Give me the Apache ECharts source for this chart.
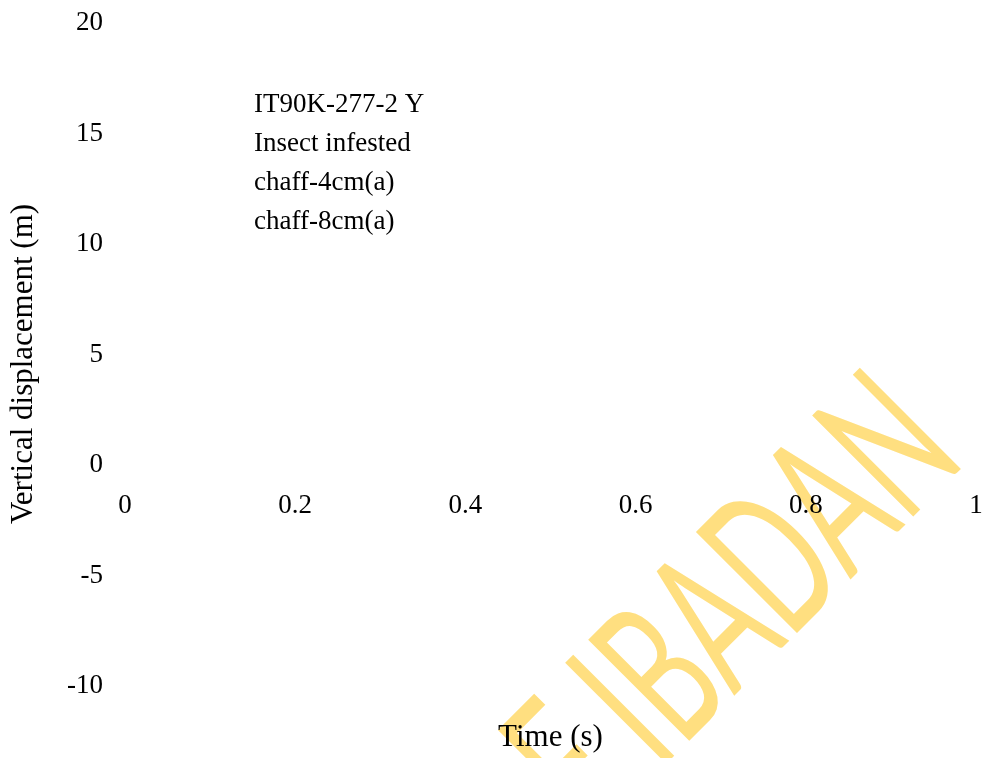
<!DOCTYPE html>
<html>
<head>
<meta charset="utf-8">
<script src="https://cdn.jsdelivr.net/npm/echarts@6/dist/echarts.min.js"></script>
<style>
  html, body { margin: 0; padding: 0; background: #fff; }
  #chart { width: 982px; height: 758px; }
</style>
</head>
<body>
<div id="chart"></div>
<script>
// Series shown in the legend (no samples recorded for them)
const seriesNames = ['IT90K-277-2 Y', 'Insect infested', 'chaff-4cm(a)', 'chaff-8cm(a)'];
const seriesData = [[], [], [], []];

// Axis ranges and tick steps
const xRange = [0, 1];
const xStep = 0.2;
const yRange = [-10, 20];
const yStep = 5;

const serif = '"Liberation Serif", "Times New Roman", serif';

const gridTop = 23;
const gridBottom = 72;
const plotHeight = 758 - gridTop - gridBottom;
// lift the time axis from the grid bottom up to the y = 0 level
const xAxisOffset = -plotHeight * (0 - yRange[0]) / (yRange[1] - yRange[0]);

const chart = echarts.init(document.getElementById('chart'), null, { renderer: 'canvas' });

chart.setOption({
  backgroundColor: '#ffffff',
  animation: false,
  grid: { left: 125, right: 6, top: gridTop, bottom: gridBottom, containLabel: false, outerBoundsMode: 'none' },
  legend: {
    orient: 'vertical',
    left: 243,
    top: 86,
    itemWidth: 0,
    itemHeight: 0,
    itemGap: 12,
    selectedMode: false,
    textStyle: { fontFamily: serif, fontSize: 27, lineHeight: 27, color: '#000' },
    data: seriesNames
  },
  xAxis: {
    type: 'value',
    min: xRange[0],
    max: xRange[1],
    interval: xStep,
    position: 'bottom',
    offset: xAxisOffset,
    name: 'Time (s)',
    nameLocation: 'middle',
    nameGap: 257,
    nameTextStyle: { fontFamily: serif, fontSize: 31, color: '#000' },
    axisLine: { show: false, onZero: false },
    axisTick: { show: false },
    splitLine: { show: false },
    axisLabel: { fontFamily: serif, fontSize: 27, color: '#000', margin: 27 }
  },
  yAxis: {
    type: 'value',
    min: yRange[0],
    max: yRange[1],
    interval: yStep,
    name: 'Vertical displacement (m)',
    nameLocation: 'middle',
    nameGap: 86,
    nameTextStyle: { fontFamily: serif, fontSize: 31, color: '#000', padding: [0, 19, 0, 0] },
    axisLine: { show: false },
    axisTick: { show: false },
    splitLine: { show: false },
    axisLabel: { fontFamily: serif, fontSize: 27, color: '#000', margin: 22 }
  },
  graphic: [{
    type: 'text',
    z: -10,
    silent: true,
    x: 923,
    y: 416,
    rotation: Math.PI / 4,
    scaleX: 1,
    scaleY: 1.72,
    style: {
      text: 'UNIVERSITY OF IBADAN',
      font: '116px Lato, "Open Sans", sans-serif',
      fill: '#FFDF80',
      align: 'right',
      verticalAlign: 'middle'
    }
  }],
  series: seriesNames.map((name, i) => ({
    name: name,
    type: 'line',
    data: seriesData[i],
    showSymbol: false
  }))
});
</script>
</body>
</html>
